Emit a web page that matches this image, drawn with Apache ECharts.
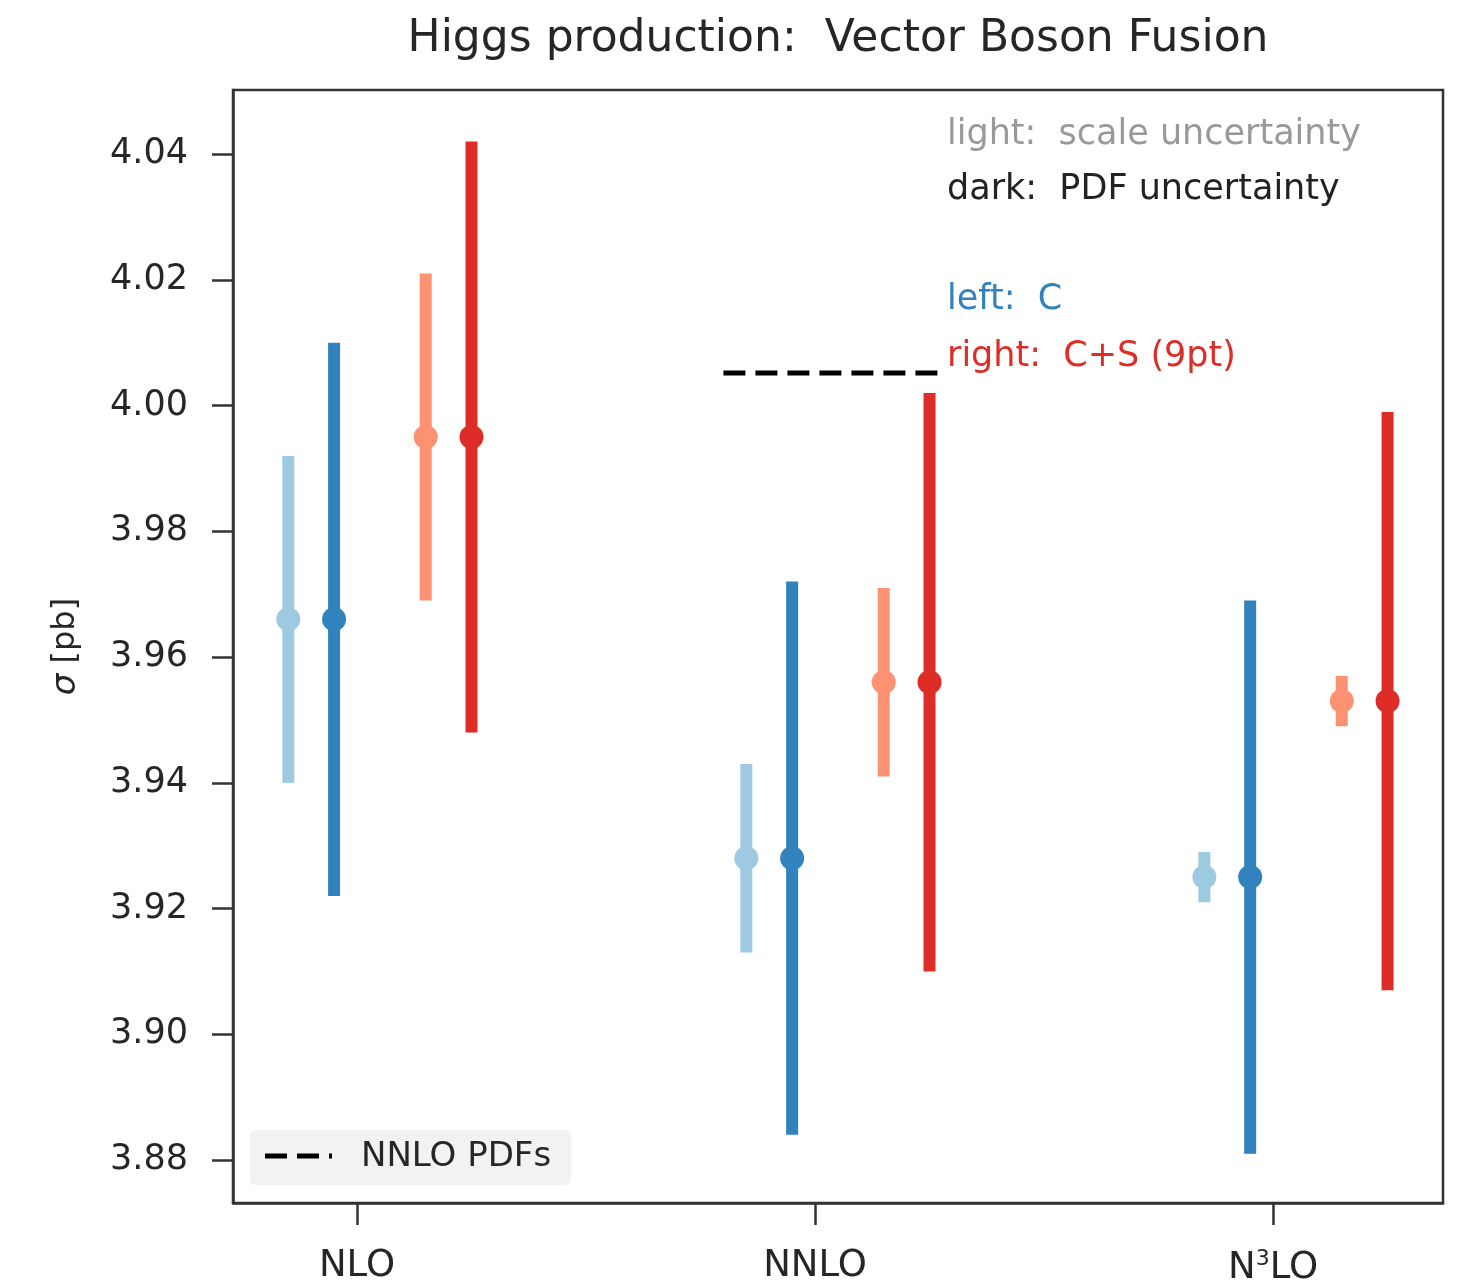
<!DOCTYPE html>
<html>
<head>
<meta charset="utf-8">
<script src="https://cdn.jsdelivr.net/npm/echarts@6/dist/echarts.min.js"></script>
<style>html,body{margin:0;padding:0;background:#fff}#c{width:1465px;height:1280px}</style>
</head>
<body>
<div id="c"></div>
<script>
// ---- data ----
const categories = ['NLO', 'NNLO', 'N3LO'];
const yTicks = [3.88, 3.90, 3.92, 3.94, 3.96, 3.98, 4.00, 4.02, 4.04];
// C (left): central values, scale band, PDF band
const cCentral = [3.966, 3.928, 3.925];
const cScaleLo = [3.940, 3.913, 3.921];
const cScaleHi = [3.992, 3.943, 3.929];
const cPdfLo   = [3.922, 3.884, 3.881];
const cPdfHi   = [4.010, 3.972, 3.969];
// C+S 9pt (right)
const csCentral = [3.995, 3.956, 3.953];
const csScaleLo = [3.969, 3.941, 3.949];
const csScaleHi = [4.021, 3.971, 3.957];
const csPdfLo   = [3.948, 3.910, 3.907];
const csPdfHi   = [4.042, 4.002, 3.999];
// NNLO PDFs reference value (drawn at NNLO)
const nnloPdfValue = 4.0052;
const legendLabel = 'NNLO PDFs';

// ---- layout helpers ----
const offsets = { cScale: -0.15, cPdf: -0.05, csScale: 0.15, csPdf: 0.25 };
const colors = { cScale: '#9ecae1', cPdf: '#3182bd', csScale: '#fc9272', csPdf: '#de2d26' };

function barData(off, lo, hi) { return categories.map((c, i) => [i + off, lo[i], hi[i]]); }
function ptData(off, mid) { return categories.map((c, i) => [i + off, mid[i]]); }

function errSeries(name, off, lo, hi, color) {
  return {
    type: 'custom', name: name, z: 3,
    data: barData(off, lo, hi),
    encode: { x: 0, y: [1, 2] },
    renderItem: function (params, api) {
      const p1 = api.coord([api.value(0), api.value(1)]);
      const p2 = api.coord([api.value(0), api.value(2)]);
      return { type: 'line', shape: { x1: p1[0], y1: p1[1], x2: p2[0], y2: p2[1] },
               style: { stroke: color, lineWidth: 12, lineCap: 'butt' } };
    }
  };
}
function ptSeries(off, mid, color) {
  return { type: 'scatter', data: ptData(off, mid), symbolSize: 24, z: 4,
           itemStyle: { color: color, opacity: 1 } };
}

const FONT = 'DejaVu Sans';
const chart = echarts.init(document.getElementById('c'), null, { renderer: 'canvas' });
chart.setOption({
  animation: false,
  backgroundColor: '#fff',
  textStyle: { fontFamily: FONT },
  grid: { left: 233, right: 22, top: 90, bottom: 77, outerBoundsMode: 'none', containLabel: false,
          show: true, borderColor: '#333', borderWidth: 2.5, backgroundColor: 'transparent' },
  xAxis: {
    type: 'value', min: -0.2707, max: 2.371,
    splitLine: { show: false },
    axisLine: { show: true, onZero: false, lineStyle: { color: '#333', width: 2.5 } },
    axisTick: { show: true, customValues: [0, 1, 2], length: 22, lineStyle: { color: '#333', width: 2.5 } },
    axisLabel: {
      customValues: [0, 1, 2], margin: 45, color: '#262626', fontSize: 37, fontFamily: FONT,
      formatter: function (v) {
        const i = Math.round(v);
        if (categories[i] === 'N3LO') return 'N{sup|3}LO';
        return categories[i];
      },
      rich: { sup: { fontSize: 22, verticalAlign: 'top', padding: [0, 0, 18, 0], color: '#262626', fontFamily: FONT } }
    }
  },
  yAxis: {
    type: 'value', min: 3.87316, max: 4.0502,
    splitLine: { show: false },
    axisLine: { show: true, onZero: false, lineStyle: { color: '#333', width: 2.5 } },
    axisTick: { show: true, customValues: yTicks, length: 21, lineStyle: { color: '#333', width: 2.5 } },
    axisLabel: { customValues: yTicks, margin: 45, color: '#262626', fontSize: 35, fontFamily: FONT,
                 formatter: function (v) { return v.toFixed(2); } },
    name: '{i|σ} [pb]', nameLocation: 'middle', nameGap: 150,
    nameTextStyle: { fontSize: 32, color: '#262626', fontFamily: FONT, rich: { i: { fontStyle: 'italic', fontSize: 34, fontFamily: FONT } } }
  },
  series: [
    errSeries('cs', offsets.cScale, cScaleLo, cScaleHi, colors.cScale),
    errSeries('cp', offsets.cPdf, cPdfLo, cPdfHi, colors.cPdf),
    errSeries('ss', offsets.csScale, csScaleLo, csScaleHi, colors.csScale),
    errSeries('sp', offsets.csPdf, csPdfLo, csPdfHi, colors.csPdf),
    ptSeries(offsets.cScale, cCentral, colors.cScale),
    ptSeries(offsets.cPdf, cCentral, colors.cPdf),
    ptSeries(offsets.csScale, csCentral, colors.csScale),
    ptSeries(offsets.csPdf, csCentral, colors.csPdf),
    {
      type: 'line', name: legendLabel, symbol: 'none', z: 2,
      data: [[1 - 0.2, nnloPdfValue], [1 + 0.28, nnloPdfValue]],
      lineStyle: { color: '#000', width: 5, type: [22, 10] },
      itemStyle: { color: '#000' }
    }
  ],
  graphic: [
    { type: 'text', x: 838, y: 40, style: { text: 'Higgs production:  Vector Boson Fusion', fill: '#262626', font: '44px "' + FONT + '"', textAlign: 'center', textVerticalAlign: 'middle' } },
    { type: 'text', x: 947, y: 135, style: { text: 'light:  scale uncertainty', fill: '#999999', font: '35px "' + FONT + '"', textAlign: 'left', textVerticalAlign: 'middle' } },
    { type: 'text', x: 947, y: 190, style: { text: 'dark:  PDF uncertainty', fill: '#222222', font: '35px "' + FONT + '"', textAlign: 'left', textVerticalAlign: 'middle' } },
    { type: 'text', x: 947, y: 300, style: { text: 'left:  C', fill: '#3182bd', font: '35px "' + FONT + '"', textAlign: 'left', textVerticalAlign: 'middle' } },
    { type: 'text', x: 947, y: 357, style: { text: 'right:  C+S (9pt)', fill: '#de2d26', font: '35px "' + FONT + '"', textAlign: 'left', textVerticalAlign: 'middle' } },
    // legend box
    { type: 'rect', shape: { x: 250, y: 1130, width: 321, height: 55, r: 6 }, style: { fill: '#f2f2f2' }, z: 10 },
    { type: 'line', shape: { x1: 265, y1: 1156, x2: 332, y2: 1156 }, style: { stroke: '#000', lineWidth: 5, lineDash: [22, 10] }, z: 11 },
    { type: 'text', x: 361, y: 1157, style: { text: legendLabel, fill: '#262626', font: '34px "' + FONT + '"', textAlign: 'left', textVerticalAlign: 'middle' }, z: 11 }
  ]
});
</script>
</body>
</html>
